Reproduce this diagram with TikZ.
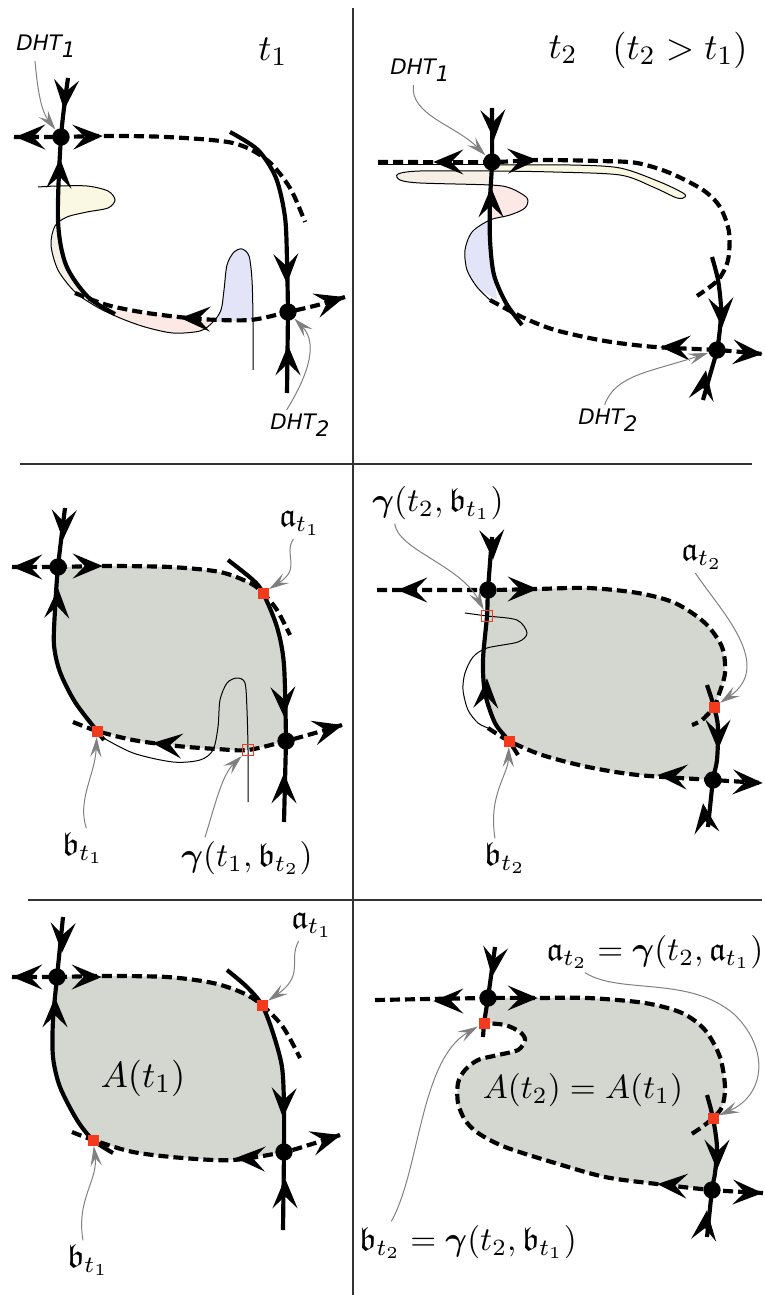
\documentclass[tikz,border=0pt]{standalone}
\usepackage{amsmath}
\usepackage{amssymb}
\usepackage{fontspec}
\usepackage{tikz}
\usetikzlibrary{arrows.meta, decorations.markings}
\newfontfamily\dhtfont{DejaVu Sans}
\definecolor{basingray}{RGB}{211,215,207}
\definecolor{lobeyellow}{RGB}{250,248,226}
\definecolor{lobebeige}{RGB}{245,239,229}
\definecolor{lobepink}{RGB}{252,232,229}
\definecolor{lobeblue}{RGB}{228,228,248}
\definecolor{markred}{RGB}{242,58,28}

\begin{document}
\begin{tikzpicture}[
    x=0.3pt, y=-0.3pt,
    stable/.style   = {line width=1.25pt},
    unstable/.style = {line width=1.25pt, dash pattern=on 3pt off 1.5pt},
    manifold/.style = {line width=0.3pt},
    divider/.style  = {line width=0.4pt, black!80},
    pointer/.style  = {-{Stealth[length=6pt, width=3.4pt, inset=2.4pt]}, line width=0.3pt, gray},
    flowhead/.style = {decorate, decoration={markings,
                       mark=at position 0.99 with {\arrow[line width=0.5pt]{Stealth[length=9pt, width=7.5pt, inset=3.6pt]}}}},
    hyp/.style      = {circle, fill=black, inner sep=0pt, minimum size=5.2pt},
    redpt/.style    = {rectangle, fill=markred, inner sep=0pt, minimum size=3.3pt},
    openpt/.style   = {rectangle, draw=markred, line width=0.45pt, inner sep=0pt, minimum size=3.3pt},
    lbl/.style      = {inner sep=1pt, font=\normalsize},
    timelbl/.style  = {inner sep=1pt, font=\fontsize{10.95}{13}\selectfont},
    dhtlbl/.style   = {inner sep=1pt, font=\fontsize{6.4}{7.5}\selectfont\dhtfont\itshape},
  ]
  \useasboundingbox (0,0) rectangle (764,1295);

  %% Frame
  \draw[divider] (353,8) -- (353,1295);
  \draw[divider] (20,464) -- (752,464);
  \draw[divider] (28,900) -- (762,900);

  %% ---------------- top left: time t_1 ----------------
  \coordinate (h1a) at (61,137);
  \coordinate (h2a) at (288,312);
  \fill[lobeyellow] plot[smooth] coordinates {(58,186) (87,186) (108,191) (115,200) (108,208) (87,212) (67,217) (58,222)} -- cycle;
  \fill[lobebeige] plot[smooth] coordinates {(58,222) (51,245) (58,270) (75,292) (100,307)}
    --plot[smooth] coordinates {(88,297) (68,270) (60,245) (58,222)} -- cycle;
  \fill[lobepink] plot[smooth] coordinates {(100,307) (120,318) (145,327) (173,333) (200,331) (213,322)}
    --plot[smooth] coordinates {(213,320) (180,317) (147,313) (115,311)} -- cycle;
  \fill[lobeblue] plot[smooth] coordinates {(213,322) (221,310) (224,290) (227,265) (234,252) (242,249) (249,256) (252,280) (253,320)} -- cycle;
  \draw[manifold] plot[smooth] coordinates {(38,187) (57,186) (87,186) (108,191) (115,200) (108,208) (87,212) (67,217) (55,226)
    (51,245) (58,270) (75,292) (97,307) (120,318) (145,327) (173,333) (200,331) (213,322) (221,310) (224,290) (227,265)
    (234,252) (242,249) (249,256) (252,280) (253,320) (253,370)};
  \draw[stable] plot[smooth] coordinates {(68,78) (h1a) (58,220) (66,265) (88,297) (115,314)};
  \draw[stable] plot[smooth] coordinates {(230,132) (258,150) (276,178) (285,217) (287,260) (h2a)} -- (287,393);
  \draw[unstable] plot[smooth] coordinates {(14,137) (h1a) (103,136) (167,137) (233,143) (267,160) (290,188) (305,222)};
  \draw[unstable] plot[smooth] coordinates {(75,293) (107,305) (147,313) (200,319) (250,320) (h2a) (318,305) (345,297)};
  \path[flowhead] (66,86) -- (64,110);
  \path[flowhead] (59,185) -- (60,158);
  \path[flowhead] (45,137) -- (15,137);
  \path[flowhead] (77,137) -- (103,136);
  \path[flowhead] (286,258) -- (287,284);
  \path[flowhead] (288,372) -- (288,345);
  \path[flowhead] (207,319) -- (180,318);
  \path[flowhead] (318,305) -- (345,297);
  \node[hyp] (dot1a) at (h1a) {};
  \node[hyp] (dot2a) at (h2a) {};
  \node[dhtlbl] (l1a) at (46,46) {DHT\raisebox{-2pt}{1}};
  \node[dhtlbl] (l2a) at (300,425) {DHT\raisebox{-2pt}{2}};
  \node[timelbl] (ta) at (273,52) {$t_1$};
  \draw[pointer] ([xshift=-3.3pt]l1a.south) .. controls (38,95) and (42,112) .. (dot1a);
  \draw[pointer] ([xshift=-4pt]l2a.north) .. controls (305,380) and (320,345) .. (dot2a);

  %% ---------------- top right: time t_2 ----------------
  \coordinate (h1b) at (492,162);
  \coordinate (h2b) at (717,350);
  \fill[lobeyellow] plot[smooth] coordinates {(490,165) (570,165) (620,168) (660,182) (683,193) (685,197) (677,198) (653,187) (620,175) (553,172) (490,171)} -- cycle;
  \fill[lobebeige] plot[smooth] coordinates {(490,171) (420,171) (398,174) (400,180) (420,183) (490,185)} -- cycle;
  \fill[lobepink] plot[smooth] coordinates {(490,185) (510,188) (527,198) (525,208) (510,215) (490,220)} -- cycle;
  \fill[lobeblue] plot[smooth] coordinates {(490,220) (472,232) (465,250) (467,270) (477,287) (497,300)}
    --plot[smooth] coordinates {(494,275) (490,240) (490,220)} -- cycle;
  \draw[manifold] (378,165) -- (490,165);
  \draw[manifold] plot[smooth] coordinates {(490,165) (570,165) (620,168) (660,182) (683,193) (685,197) (677,198) (653,187)
    (620,175) (553,172) (490,171) (420,171) (398,174) (400,180) (420,183) (490,185) (510,188) (527,198) (525,208) (510,215)
    (490,220) (472,232) (465,250) (467,270) (477,287) (490,300)};
  \draw[stable] plot[smooth] coordinates {(492,108) (h1b) (490,200) (490,240) (494,275) (506,303) (522,325)};
  \draw[stable] plot[smooth] coordinates {(712,257) (718,280) (721,307) (720,328) (h2b) (710,375) (703,400)};
  \draw[unstable] plot[smooth] coordinates {(378,162) (h1b) (538,160) (600,161) (637,163) (670,173) (703,190) (720,207) (729,232) (728,260) (718,280) (697,296)};
  \draw[unstable] plot[smooth] coordinates {(490,300) (522,317) (555,330) (605,341) (655,347) (h2b) (763,354)};
  \path[flowhead] (493,114) -- (494,140);
  \path[flowhead] (491,212) -- (491,187);
  \path[flowhead] (465,162) -- (433,162);
  \path[flowhead] (510,161) -- (538,160);
  \path[flowhead] (721,302) -- (722,328);
  \path[flowhead] (702,395) -- (706,370);
  \path[flowhead] (688,348) -- (660,347);
  \path[flowhead] (735,352) -- (763,354);
  \node[hyp] (dot1b) at (h1b) {};
  \node[hyp] (dot2b) at (h2b) {};
  \node[dhtlbl] (l1b) at (420,70) {DHT\raisebox{-2pt}{1}};
  \node[dhtlbl] (l2b) at (608,420) {DHT\raisebox{-2pt}{2}};
  \node[timelbl] (tb) at (563,50) {$t_2$};
  \node[timelbl] (ordb) at (680,50) {$(t_2 > t_1)$};
  \draw[pointer] ([xshift=-2pt]l1b.south) .. controls (410,115) and (455,125) .. (dot1b);
  \draw[pointer] ([xshift=-1pt]l2b.north) .. controls (615,375) and (650,372) .. (dot2b);

  %% ---------------- middle left ----------------
  \coordinate (h1c) at (58,567);
  \coordinate (h2c) at (286,741);
  \coordinate (ac) at (263,593);
  \coordinate (bc) at (97,731);
  \coordinate (gc) at (248,750);
  \fill[basingray] plot[smooth] coordinates {(h1c) (103,566) (170,567) (220,572) (250,583) (ac)}
    --plot[smooth] coordinates {(ac) (277,627) (284,665) (h2c)}
    --plot[smooth] coordinates {(h2c) (248,750) (217,749) (177,746) (133,740) (bc)}
    --plot[smooth] coordinates {(bc) (75,702) (60,672) (54,645) (55,610) (h1c)} -- cycle;
  \draw[manifold] plot[smooth] coordinates {(100,736) (133,753) (173,762) (200,760) (213,750) (218,727) (220,700) (227,683)
    (237,678) (245,683) (247,710) (gc) (248,802)};
  \draw[stable] plot[smooth] coordinates {(65,508) (h1c) (55,610) (54,645) (60,672) (75,702) (bc) (104,740)};
  \draw[stable] plot[smooth] coordinates {(228,560) (253,580) (ac) (277,627) (284,665) (h2c)} -- (284,822);
  \draw[unstable] plot[smooth] coordinates {(12,567) (h1c) (103,566) (170,567) (220,572) (250,583) (ac) (277,610) (290,635)};
  \draw[unstable] plot[smooth] coordinates {(73,722) (bc) (133,740) (177,746) (217,749) (gc) (h2c) (315,733) (342,725)};
  \path[flowhead] (64,515) -- (63,540);
  \path[flowhead] (57,613) -- (58,588);
  \path[flowhead] (45,567) -- (12,567);
  \path[flowhead] (75,566) -- (103,566);
  \path[flowhead] (283,690) -- (284,717);
  \path[flowhead] (284,799) -- (284,773);
  \path[flowhead] (182,746) -- (152,743);
  \path[flowhead] (317,732) -- (343,725);
  \node[hyp] (dot1c) at (h1c) {};
  \node[hyp] (dot2c) at (h2c) {};
  \node[redpt] (sqac) at (ac) {};
  \node[redpt] (sqbc) at (bc) {};
  \node[openpt] (sqgc) at (gc) {};
  \node[lbl] (lac) at (300,523) {$\mathfrak{a}_{t_1}$};
  \node[lbl] (lbc) at (83,848) {$\mathfrak{b}_{t_1}$};
  \node[lbl] (lgc) at (247,858) {$\boldsymbol{\gamma}(t_1,\mathfrak{b}_{t_2})$};
  \draw[pointer] ([xshift=-2pt]lac.south) .. controls (283,555) and (302,568) .. (sqac);
  \draw[pointer] ([xshift=1pt]lbc.north) .. controls (77,800) and (95,775) .. (sqbc);
  \draw[pointer] ([xshift=-12.6pt]lgc.north) .. controls (215,805) and (222,775) .. (sqgc);

  %% ---------------- middle right ----------------
  \coordinate (h1d) at (488,590);
  \coordinate (h2d) at (713,780);
  \coordinate (ad) at (714,707);
  \coordinate (bd) at (509,741);
  \coordinate (gd) at (487,616);
  \fill[basingray] plot[smooth] coordinates {(h1d) (537,589) (588,588) (638,593) (675,603) (705,623) (722,647) (725,673) (718,697) (ad)}
    --plot[smooth] coordinates {(ad) (718,727) (717,760) (h2d)}
    --plot[smooth] coordinates {(h2d) (638,775) (588,767) (542,755) (bd)}
    --plot[smooth] coordinates {(bd) (495,723) (485,693) (483,660) (gd) (h1d)} -- cycle;
  \draw[manifold] plot[smooth] coordinates {(465,613) (gd) (517,620) (527,633) (518,642) (487,648) (473,657) (465,673)
    (463,690) (468,710) (478,723) (488,728)};
  \draw[stable] plot[smooth] coordinates {(492,537) (h1d) (gd) (483,660) (485,693) (495,723) (bd) (518,755)};
  \draw[stable] plot[smooth] coordinates {(707,685) (ad) (718,727) (717,760) (h2d) (708,827)};
  \draw[unstable] plot[smooth] coordinates {(377,590) (h1d) (537,589) (588,588) (638,593) (675,603) (705,623) (722,647)
    (725,673) (718,697) (ad) (702,720) (692,725)};
  \draw[unstable] plot[smooth] coordinates {(488,728) (bd) (542,755) (588,767) (638,775) (h2d) (763,783)};
  \path[flowhead] (492,537) -- (493,560);
  \path[flowhead] (486,703) -- (487,678);
  \path[flowhead] (427,590) -- (397,590);
  \path[flowhead] (507,589) -- (538,589);
  \path[flowhead] (718,724) -- (718,750);
  \path[flowhead] (706,826) -- (703,803);
  \path[flowhead] (687,777) -- (657,775);
  \path[flowhead] (735,782) -- (763,783);
  \node[hyp] (dot1d) at (h1d) {};
  \node[hyp] (dot2d) at (h2d) {};
  \node[redpt] (sqad) at (ad) {};
  \node[redpt] (sqbd) at (bd) {};
  \node[openpt] (sqgd) at (gd) {};
  \node[lbl] (lgd) at (438,503) {$\boldsymbol{\gamma}(t_2,\mathfrak{b}_{t_1})$};
  \node[lbl] (lad) at (702,557) {$\mathfrak{a}_{t_2}$};
  \node[lbl] (lbd) at (505,858) {$\mathfrak{b}_{t_2}$};
  \draw[pointer] ([xshift=-13pt]lgd.south) .. controls (398,550) and (460,565) .. (sqgd);
  \draw[pointer] ([xshift=-2pt]lad.south) .. controls (720,610) and (775,665) .. (sqad);
  \draw[pointer] ([xshift=-3pt]lbd.north) .. controls (488,795) and (508,775) .. (sqbd);

  %% ---------------- bottom left ----------------
  \coordinate (h1e) at (57,977);
  \coordinate (h2e) at (284,1152);
  \coordinate (ae) at (262,1005);
  \coordinate (be) at (93,1140);
  \fill[basingray] plot[smooth] coordinates {(h1e) (102,976) (167,977) (213,983) (243,993) (ae)}
    --plot[smooth] coordinates {(ae) (273,1033) (282,1067) (284,1107) (h2e)}
    --plot[smooth] coordinates {(h2e) (233,1160) (183,1158) (133,1152) (be)}
    --plot[smooth] coordinates {(be) (77,1120) (60,1087) (53,1057) (53,1020) (h1e)} -- cycle;
  \draw[stable] plot[smooth] coordinates {(63,917) (h1e) (53,1020) (53,1057) (60,1087) (77,1120) (be) (113,1153)};
  \draw[stable] plot[smooth] coordinates {(227,970) (247,987) (ae) (273,1033) (282,1067) (284,1107) (h2e)} -- (283,1230);
  \draw[unstable] plot[smooth] coordinates {(12,977) (h1e) (102,976) (167,977) (213,983) (243,993) (ae) (283,1027) (300,1058)};
  \draw[unstable] plot[smooth] coordinates {(72,1132) (be) (133,1152) (183,1158) (233,1160) (h2e) (312,1144) (340,1135)};
  \path[flowhead] (63,926) -- (62,953);
  \path[flowhead] (55,1023) -- (55,997);
  \path[flowhead] (43,977) -- (12,977);
  \path[flowhead] (73,977) -- (102,977);
  \path[flowhead] (284,1092) -- (283,1118);
  \path[flowhead] (285,1205) -- (285,1178);
  \path[flowhead] (265,1159) -- (235,1158);
  \path[flowhead] (313,1143) -- (341,1135);
  \node[hyp] (dot1e) at (h1e) {};
  \node[hyp] (dot2e) at (h2e) {};
  \node[redpt] (sqae) at (ae) {};
  \node[redpt] (sqbe) at (be) {};
  \node[timelbl] (areae) at (143,1078) {$A(t_1)$};
  \node[lbl] (lae) at (312,925) {$\mathfrak{a}_{t_1}$};
  \node[lbl] (lbe) at (88,1260) {$\mathfrak{b}_{t_1}$};
  \draw[pointer] ([xshift=-4pt]lae.south) .. controls (288,960) and (305,975) .. (sqae);
  \draw[pointer] ([xshift=-1.5pt]lbe.north) .. controls (76,1200) and (98,1180) .. (sqbe);

  %% ---------------- bottom right ----------------
  \coordinate (h1f) at (488,998);
  \coordinate (h2f) at (712,1190);
  \coordinate (af) at (713,1118);
  \coordinate (bf) at (484,1023);
  \fill[basingray] plot[smooth] coordinates {(h1f) (537,998) (588,998) (645,1003) (682,1013) (705,1030) (720,1057) (725,1087) (722,1107) (af)}
    --plot[smooth] coordinates {(af) (717,1147) (715,1173) (h2f)}
    --plot[smooth] coordinates {(h2f) (657,1184) (605,1177) (555,1163) (505,1147) (478,1133) (465,1120) (458,1103) (458,1083)
      (465,1070) (478,1060) (498,1055) (518,1050) (525,1040) (520,1032) (505,1025) (bf)}
    -- (h1f) -- cycle;
  \draw[stable] (495,947) -- (h1f) -- (bf) -- (483,1037);
  \draw[stable] plot[smooth] coordinates {(707,1095) (af) (717,1147) (715,1173) (h2f) (707,1237)};
  \draw[unstable] plot[smooth] coordinates {(375,1000) (h1f) (537,998) (588,998) (645,1003) (682,1013) (705,1030) (720,1057)
    (725,1087) (722,1107) (af) (702,1127) (690,1135)};
  \draw[unstable] plot[smooth] coordinates {(763,1193) (h2f) (657,1184) (605,1177) (555,1163) (505,1147) (478,1133) (465,1120)
    (458,1103) (458,1083) (465,1070) (478,1060) (498,1055) (518,1050) (525,1040) (520,1032) (505,1025) (bf)};
  \path[flowhead] (495,952) -- (492,977);
  \path[flowhead] (462,1001) -- (433,1001);
  \path[flowhead] (507,998) -- (538,998);
  \path[flowhead] (717,1145) -- (717,1170);
  \path[flowhead] (704,1237) -- (707,1210);
  \path[flowhead] (685,1186) -- (657,1184);
  \path[flowhead] (732,1192) -- (763,1193);
  \node[hyp] (dot1f) at (h1f) {};
  \node[hyp] (dot2f) at (h2f) {};
  \node[redpt] (sqaf) at (af) {};
  \node[redpt] (sqbf) at (bf) {};
  \node[lbl] (areaf) at (583,1090) {$A(t_2) = A(t_1)$};
  \node[lbl] (laf) at (655,952) {$\mathfrak{a}_{t_2} = \boldsymbol{\gamma}(t_2,\mathfrak{a}_{t_1})$};
  \node[lbl] (lbf) at (468,1242) {$\mathfrak{b}_{t_2} = \boldsymbol{\gamma}(t_2,\mathfrak{b}_{t_1})$};
  \draw[pointer] ([xshift=-21pt]laf.south) .. controls (620,995) and (690,975) .. (735,1015)
    .. controls (770,1050) and (765,1095) .. (sqaf);
  \draw[pointer] ([xshift=-23pt]lbf.north) .. controls (420,1170) and (420,1060) .. (sqbf);

\end{tikzpicture}
\end{document}
